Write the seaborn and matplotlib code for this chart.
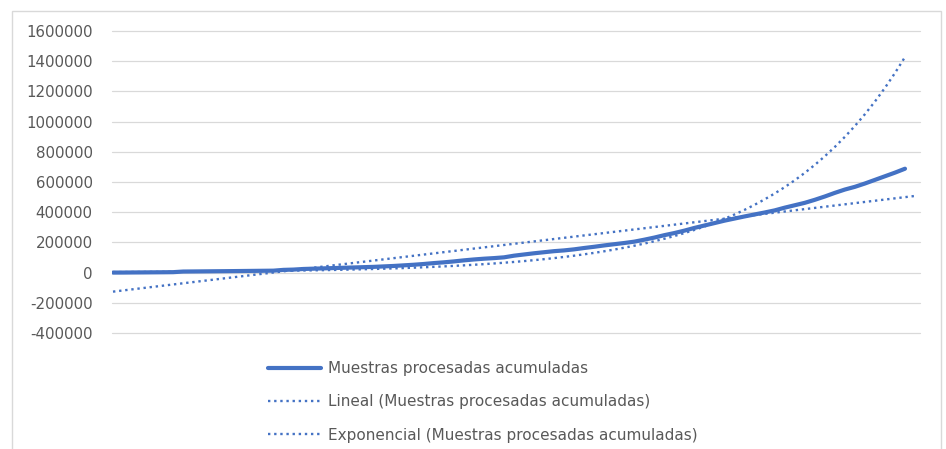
import numpy as np
import pandas as pd
import matplotlib
matplotlib.use("Agg")
import matplotlib.pyplot as plt
from matplotlib.patches import Rectangle
import seaborn as sns

# Cumulative processed samples, one value per day
muestras = [
    100, 300, 900, 1300, 1800, 2300, 2900,
    7000, 7600, 8200, 8800, 9400, 10000, 10700, 11400, 12100, 12800,
    18000, 20000, 24000, 26000, 28000, 30000, 32000, 34000, 36000, 38000,
    41000, 44000, 48000, 52000, 57000, 63000, 68000, 74000, 81000, 87000,
    92000, 96000, 101000, 112000, 120000, 128000, 135000, 142000, 147000,
    154000, 163000, 171000, 180000, 188000, 196000, 205000, 218000, 232000,
    248000, 262000, 278000, 296000, 312000, 328000, 344000, 358000, 372000,
    385000, 398000, 412000, 430000, 446000, 462000, 482000, 504000, 528000,
    550000, 568000, 590000, 614000, 638000, 662000, 688000,
]
y_ticks = [-400000, -200000, 0, 200000, 400000, 600000, 800000,
           1000000, 1200000, 1400000, 1600000]
serie = "Muestras procesadas acumuladas"
lineal_label = "Lineal (Muestras procesadas acumuladas)"
expo_label = "Exponencial (Muestras procesadas acumuladas)"
periodos_pronostico = 1

azul = "#4472C4"
gris_texto = "#595959"
gris_rejilla = "#D9D9D9"

sns.set_theme(style="white")
plt.rcParams["font.family"] = ["DejaVu Sans"]

dias = np.arange(len(muestras))
valores = np.asarray(muestras, dtype=float)

# Least-squares trend lines, as a spreadsheet computes them
pend, orden = np.polyfit(dias, valores, 1)
dias_lin = np.arange(len(muestras) + periodos_pronostico)
tend_lin = pend * dias_lin + orden
k, ln_a = np.polyfit(dias, np.log(valores), 1)
tend_exp = np.exp(ln_a + k * dias)

df = pd.DataFrame({"dia": dias, "valor": valores})
df_lin = pd.DataFrame({"dia": dias_lin, "valor": tend_lin})
df_exp = pd.DataFrame({"dia": dias, "valor": tend_exp})

W, H = 946, 449
fig = plt.figure(figsize=(W / 100, H / 100), dpi=100)
fig.patch.set_facecolor("white")
ax = fig.add_axes([112 / W, 1 - 333 / H, (920 - 112) / W, (333 - 31) / H])

punteado = (0, (1.0, 1.6))
sns.lineplot(data=df, x="dia", y="valor", ax=ax, color=azul, lw=3.0,
             label=serie, solid_capstyle="round")
sns.lineplot(data=df_lin, x="dia", y="valor", ax=ax, color=azul, lw=1.7,
             linestyle=punteado, label=lineal_label)
sns.lineplot(data=df_exp, x="dia", y="valor", ax=ax, color=azul, lw=1.7,
             linestyle=punteado, label=expo_label)

ax.set_xlim(-0.1, (920 - 113) / (792 / (len(muestras) - 1)))
ax.set_ylim(-400000, 1600000)
ax.set_yticks(y_ticks)
ax.set_yticklabels([str(v) for v in y_ticks])
ax.set_xticks([])
ax.set_xlabel("")
ax.set_ylabel("")
ax.tick_params(axis="y", length=0, pad=14, labelsize=10.8, labelcolor=gris_texto)
ax.yaxis.grid(True, color=gris_rejilla, lw=0.9)
for g in ax.get_ygridlines():
    g.set_clip_on(False)
ax.set_axisbelow(True)
for s in ax.spines.values():
    s.set_visible(False)

ax.legend(loc="upper left", bbox_to_anchor=(268 / W, 1 - 361 / H),
          bbox_transform=fig.transFigure, frameon=False, fontsize=11,
          labelcolor=gris_texto, handlelength=3.5, handletextpad=0.42,
          labelspacing=1.2, borderpad=0, borderaxespad=0)

# Chart area outline
fig.patches.append(Rectangle((12 / W, -0.05), (941 - 12) / W, 1.05 - 11 / H,
                             transform=fig.transFigure, fill=False,
                             edgecolor=gris_rejilla, lw=1.0))

fig.savefig("out.png", dpi=100)
